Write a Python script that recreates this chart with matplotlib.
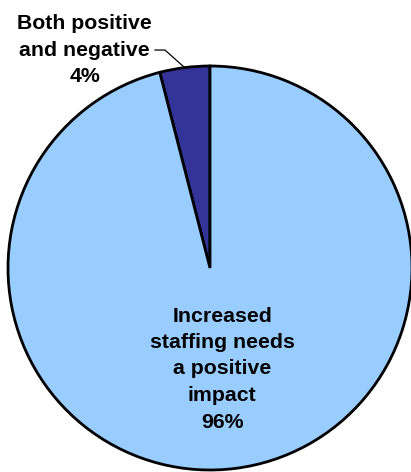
import numpy as np
import matplotlib
matplotlib.use("Agg")
import matplotlib.pyplot as plt

categories = ["Both positive\nand negative", "Increased\nstaffing needs\na positive\nimpact"]
values = [4, 96]
colors = ["#333399", "#99CCFF"]

W, H = 411, 472
fig = plt.figure(figsize=(W / 100, H / 100), dpi=100)
cx, cy, r = 210, 268, 202
ax = fig.add_axes([(cx - r) / W, (H - cy - r) / H, 2 * r / W, 2 * r / H])
wedges, _ = ax.pie(values, colors=colors, startangle=90, counterclock=True,
                   radius=1.0, wedgeprops=dict(edgecolor="black", linewidth=2))
for w in wedges:
    w.set_clip_on(False)
ax.set_xlim(-1, 1)
ax.set_ylim(-1, 1)
ax.set_aspect("equal")
ax.axis("off")

font = dict(family=["Liberation Sans", "DejaVu Sans"], fontweight="bold", fontsize=15.3,
            ha="center", va="center", linespacing=1.5)
total = sum(values)
pcts = [f"{v / total * 100:.0f}%" for v in values]

# small slice label outside with leader line
ax.text(-0.62, 1.079, f"{categories[0]}\n{pcts[0]}", **font, clip_on=False)
mid = np.deg2rad(90 + 360 * values[0] / total / 2)
ex, ey = np.cos(mid), np.sin(mid)
ax.plot([-0.272, -0.223, ex], [1.079, 1.079, ey], color="black", lw=0.9, clip_on=False)

# large slice label inside
ax.text(0.06, -0.5, f"{categories[1]}\n{pcts[1]}", **font)

fig.savefig("out.png", dpi=100)
